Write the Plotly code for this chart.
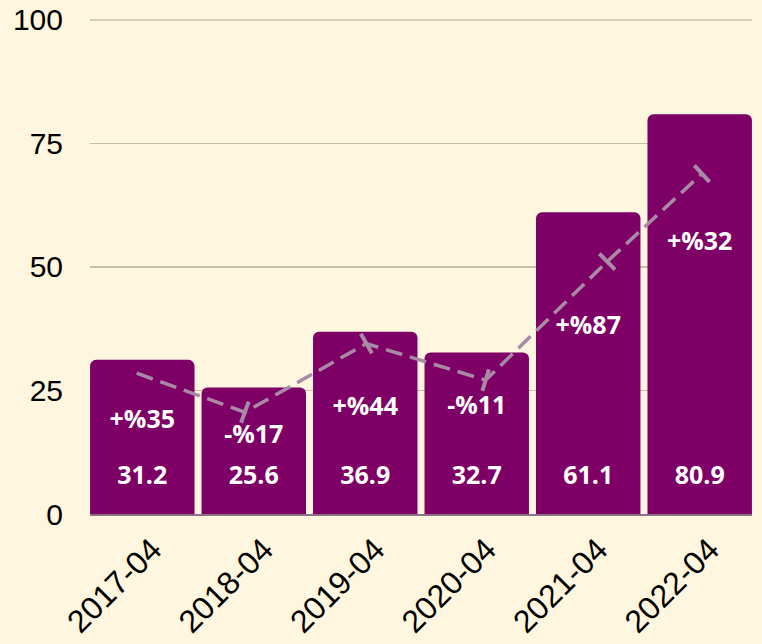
import plotly.graph_objects as go

categories = ["2017-04", "2018-04", "2019-04", "2020-04", "2021-04", "2022-04"]
values = [31.2, 25.6, 36.9, 32.7, 61.1, 80.9]
pct_labels = ["+%35", "-%17", "+%44", "-%11", "+%87", "+%32"]
trend_values = [28.5, 20.6, 34.5, 27.1, 51.1, 68.9]
trend_x = [-0.05, 0.92, 2.01, 3.08, 4.17, 5.02]

# label placement
pct_label_y = [18.6, 15.6, 21.4, 21.6, 37.8, 54.7]
value_label_y = 7.3

idx = list(range(len(categories)))

BG = "#FFF6DF"
BAR = "#7E0067"
LINE = "#A98AA6"
GRID = "#C8BDA8"

fig = go.Figure()
fig.add_trace(go.Bar(
    x=idx, y=values, width=0.937,
    marker=dict(color=BAR, cornerradius=6, line=dict(width=0)),
    hoverinfo="skip",
))
fig.add_trace(go.Scatter(
    x=trend_x, y=trend_values, mode="lines+markers",
    line=dict(color=LINE, width=3.5, dash="17px,8px"),
    marker=dict(symbol="line-ew", size=16, angleref="previous",
                line=dict(color=LINE, width=4), color=LINE),
    hoverinfo="skip",
))
fig.add_trace(go.Scatter(
    x=idx, y=[value_label_y] * len(idx), mode="text",
    text=[f"{v:.1f}" for v in values],
    textfont=dict(family="Open Sans", size=25, color="white", weight="bold"),
    hoverinfo="skip",
))
fig.add_trace(go.Scatter(
    x=idx, y=pct_label_y, mode="text", text=pct_labels,
    textfont=dict(family="Open Sans", size=25, color="white", weight="bold"),
    hoverinfo="skip",
))

fig.update_layout(
    width=762, height=644,
    margin=dict(l=90, r=10, t=19, b=130),
    paper_bgcolor=BG, plot_bgcolor=BG,
    showlegend=False,
    font=dict(family="Liberation Sans, Arial", color="black"),
    xaxis=dict(
        range=[-0.469, 5.469], tickmode="array", tickvals=idx, ticktext=categories,
        tickangle=-45, tickfont=dict(size=32, color="black"),
        showgrid=False, zeroline=False,
        showline=True, linecolor="#8C7088", linewidth=2,
        ticks="", fixedrange=True, automargin=False,
        ticklabelshift=10, ticklabelstandoff=2,
    ),
    yaxis=dict(
        range=[0, 100.2], tickvals=[0, 25, 50, 75, 100],
        tickfont=dict(size=30, color="black"),
        showgrid=True, gridcolor=GRID, gridwidth=1.5,
        zeroline=False, showline=False, ticks="",
        ticklabelstandoff=26, automargin=False, fixedrange=True,
    ),
    shapes=[dict(type="line", xref="paper", x0=0, x1=1, yref="y", y0=100, y1=100,
                 line=dict(color=GRID, width=1.5), layer="below")],
)

fig.write_html(
    "out.html",
    config={"displayModeBar": False, "staticPlot": True},
    post_script="document.body.style.margin='0';document.body.style.background='" + BG + "';",
)
